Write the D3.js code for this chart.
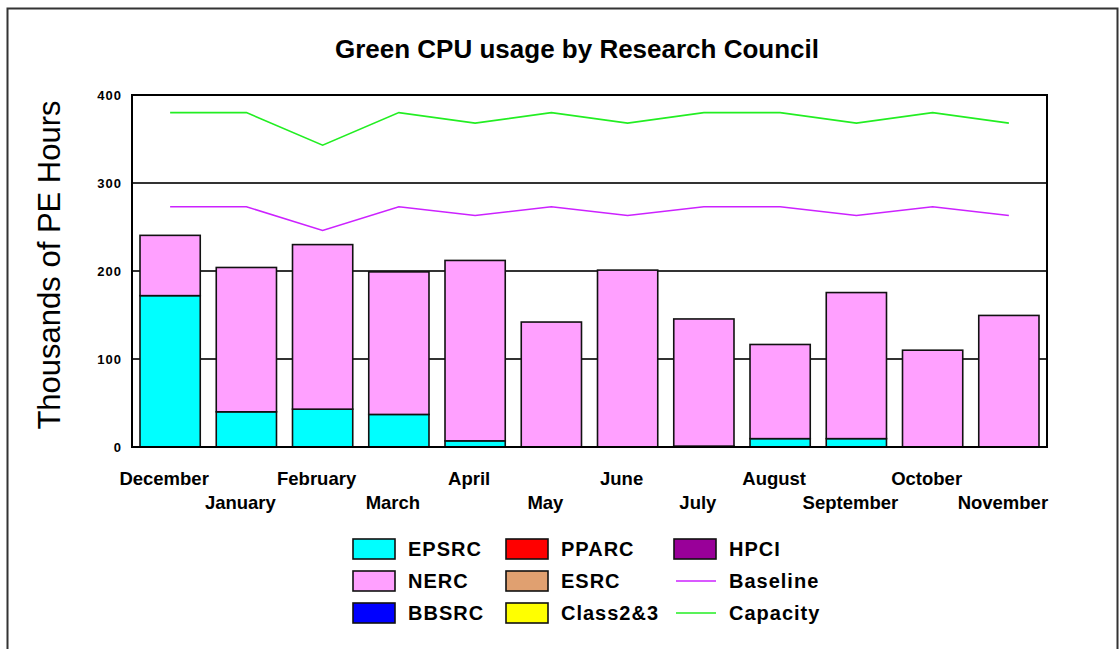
<!DOCTYPE html>
<html>
<head>
<meta charset="utf-8">
<script src="https://cdn.jsdelivr.net/npm/d3@7/dist/d3.min.js"></script>
<style>
  html, body { margin: 0; padding: 0; background: #fff; }
  svg { display: block; }
  text { font-family: "Liberation Sans", Arial, sans-serif; fill: #000; }
</style>
</head>
<body>
<svg id="chart" width="1119" height="649"></svg>
<script>
// Monthly CPU usage (thousands of PE hours) per research council
const months = ["December", "January", "February", "March", "April", "May",
                "June", "July", "August", "September", "October", "November"];
const epsrc   = [172, 40, 43, 37, 7, 0, 0, 1, 9.5, 9.5, 0, 0];
const nerc    = [68.5, 164, 187, 162, 205, 142, 201, 144.5, 107, 166, 110, 149.5];
const bbsrc   = [0, 0, 0, 0, 0, 0, 0, 0, 0, 0, 0, 0];
const pparc   = [0, 0, 0, 0, 0, 0, 0, 0, 0, 0, 0, 0];
const esrc    = [0, 0, 0, 0, 0, 0, 0, 0, 0, 0, 0, 0];
const class23 = [0, 0, 0, 0, 0, 0, 0, 0, 0, 0, 0, 0];
const hpci    = [0, 0, 0, 0, 0, 0, 0, 0, 0, 0, 0, 0];
const baseline = [273, 273, 246, 273, 263, 273, 263, 273, 273, 263, 273, 263];
const capacity = [380, 380, 343, 380, 368, 380, 368, 380, 380, 368, 380, 368];
const yTicks = [0, 100, 200, 300, 400];

const barSeries = [
  { name: "EPSRC",    values: epsrc,   color: "#00ffff" },
  { name: "NERC",     values: nerc,    color: "#ffa0ff" },
  { name: "BBSRC",    values: bbsrc,   color: "#0000ff" },
  { name: "PPARC",    values: pparc,   color: "#ff0000" },
  { name: "ESRC",     values: esrc,    color: "#e0a070" },
  { name: "Class2&3", values: class23, color: "#ffff00" },
  { name: "HPCI",     values: hpci,    color: "#990099" }
];
const lineSeries = [
  { name: "Baseline", values: baseline, color: "#cc22ff" },
  { name: "Capacity", values: capacity, color: "#22ee22" }
];

const svg = d3.select("#chart");
const plot = { left: 132, right: 1047, top: 95, bottom: 447 };

// outer frame
svg.append("rect")
  .attr("x", 7.5).attr("y", 8.5).attr("width", 1110).attr("height", 660)
  .attr("fill", "none").attr("stroke", "#333").attr("stroke-width", 2);

svg.append("text")
  .attr("x", 577).attr("y", 58)
  .attr("text-anchor", "middle")
  .attr("font-size", 26).attr("font-weight", "bold")
  .text("Green CPU usage by Research Council");

const x = d3.scaleBand().domain(months)
  .range([plot.left, plot.right]).paddingInner(0.21).paddingOuter(0.105);
const y = d3.scaleLinear().domain([0, 400]).range([plot.bottom, plot.top]);

// gridlines
svg.append("g").selectAll("line").data(yTicks.filter(t => t > 0 && t < 400)).join("line")
  .attr("x1", plot.left).attr("x2", plot.right)
  .attr("y1", d => y(d)).attr("y2", d => y(d))
  .attr("stroke", "#333").attr("stroke-width", 2);

// stacked bars
const rows = months.map((m, i) => {
  const r = { month: m };
  barSeries.forEach(s => { r[s.name] = s.values[i]; });
  return r;
});
const stack = d3.stack().keys(barSeries.map(s => s.name))(rows);
const barsG = svg.append("g");
stack.forEach((layer, li) => {
  barsG.append("g").selectAll("rect")
    .data(layer.filter(d => d[1] - d[0] > 0))
    .join("rect")
    .attr("x", d => x(d.data.month))
    .attr("width", x.bandwidth())
    .attr("y", d => y(d[1]))
    .attr("height", d => y(d[0]) - y(d[1]))
    .attr("fill", barSeries[li].color)
    .attr("stroke", "#111").attr("stroke-width", 1.6);
});

// baseline and capacity lines
lineSeries.forEach(s => {
  const line = d3.line()
    .x((d, i) => x(months[i]) + x.bandwidth() / 2)
    .y(d => y(d));
  svg.append("path").datum(s.values)
    .attr("d", line).attr("fill", "none")
    .attr("stroke", s.color).attr("stroke-width", 1.6);
});

// plot frame
svg.append("rect")
  .attr("x", plot.left).attr("y", plot.top)
  .attr("width", plot.right - plot.left).attr("height", plot.bottom - plot.top)
  .attr("fill", "none").attr("stroke", "#000").attr("stroke-width", 2);

// y axis labels
const yAxis = d3.axisLeft(y).tickValues(yTicks).tickSize(0).tickPadding(10);
const yg = svg.append("g").attr("transform", `translate(${plot.left},0)`).call(yAxis);
yg.select(".domain").remove();
yg.selectAll("text")
  .attr("font-family", "Liberation Sans, Arial, sans-serif")
  .attr("font-size", 13).attr("font-weight", "bold")
  .attr("letter-spacing", 1).attr("fill", "#000");

svg.append("text")
  .attr("transform", `translate(60,265) rotate(-90)`)
  .attr("text-anchor", "middle")
  .attr("font-size", 31)
  .text("Thousands of PE Hours");

// staggered month labels
svg.append("g").selectAll("text").data(months).join("text")
  .attr("x", d => x(d) + x.bandwidth() / 2 - 6)
  .attr("y", (d, i) => i % 2 === 0 ? 485 : 509)
  .attr("text-anchor", "middle")
  .attr("font-size", 18.5).attr("font-weight", "bold")
  .text(d => d);

// legend, three columns
const legendItems = [...barSeries.map(s => ({ ...s, type: "box" })),
                     ...lineSeries.map(s => ({ ...s, type: "line" }))];
const colX = [353, 506, 674];
const rowY = [539, 571, 603];
const lg = svg.append("g");
legendItems.forEach((d, i) => {
  const cx = colX[Math.floor(i / 3)], cy = rowY[i % 3];
  if (d.type === "box") {
    lg.append("rect").attr("x", cx).attr("y", cy).attr("width", 42).attr("height", 20)
      .attr("fill", d.color).attr("stroke", "#111").attr("stroke-width", 1.6);
  } else {
    lg.append("line").attr("x1", cx + 2).attr("x2", cx + 42)
      .attr("y1", cy + 10).attr("y2", cy + 10)
      .attr("stroke", d.color).attr("stroke-width", 1.6);
  }
  lg.append("text").attr("x", cx + 55).attr("y", cy + 17)
    .attr("font-size", 20).attr("font-weight", "bold").attr("letter-spacing", 1)
    .text(d.name);
});
</script>
</body>
</html>
